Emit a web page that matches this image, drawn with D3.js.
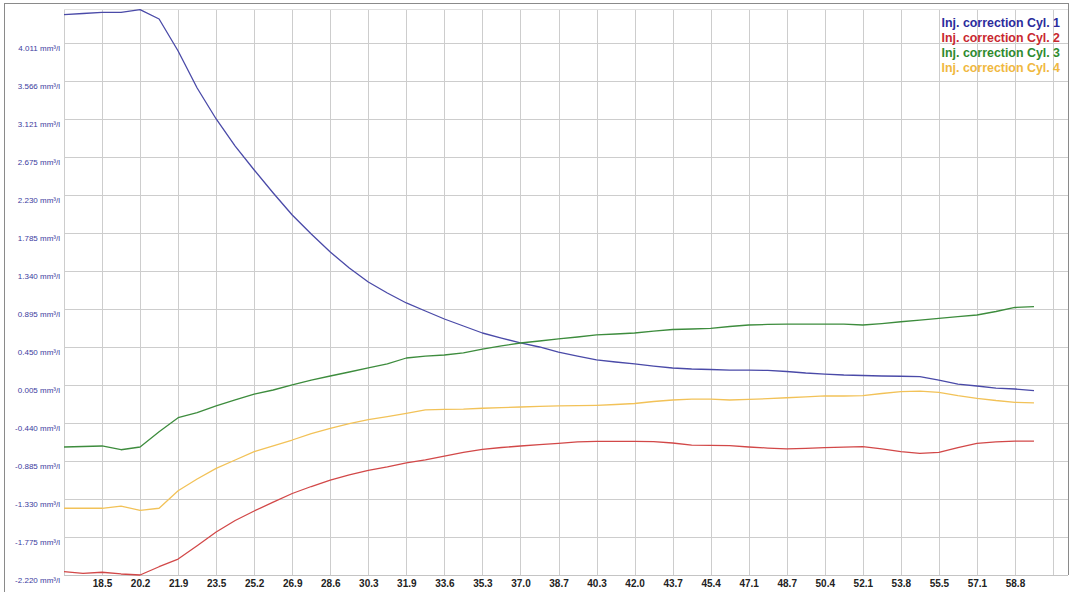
<!DOCTYPE html>
<html>
<head>
<meta charset="utf-8">
<script src="https://cdn.jsdelivr.net/npm/d3@7"></script>
<style>
  html, body { margin: 0; padding: 0; background: #ffffff; }
  svg { display: block; }
</style>
</head>
<body>
<svg id="chart" width="1074" height="592"></svg>
<script>
// ---- Data ----
const xTickLabels = ["18.5","20.2","21.9","23.5","25.2","26.9","28.6","30.3","31.9","33.6","35.3","37.0","38.7","40.3","42.0","43.7","45.4","47.1","48.7","50.4","52.1","53.8","55.5","57.1","58.8"];
const yTickValues = [4.011, 3.566, 3.121, 2.675, 2.230, 1.785, 1.340, 0.895, 0.450, 0.005, -0.440, -0.885, -1.330, -1.775, -2.220];
const yUnit = " mm³/l";

const cyl1 = [4.346,4.360,4.374,4.374,4.405,4.296,3.921,3.487,3.124,2.807,2.526,2.257,1.999,1.776,1.565,1.378,1.214,1.085,0.968,0.874,0.780,0.698,0.616,0.557,0.499,0.452,0.393,0.346,0.300,0.276,0.253,0.229,0.206,0.194,0.188,0.182,0.182,0.177,0.165,0.147,0.135,0.124,0.118,0.112,0.109,0.104,0.065,0.018,-0.005,-0.029,-0.040,-0.060];
const cyl2 = [-2.181,-2.200,-2.188,-2.208,-2.220,-2.123,-2.033,-1.877,-1.716,-1.581,-1.470,-1.365,-1.265,-1.183,-1.107,-1.048,-0.995,-0.954,-0.907,-0.872,-0.826,-0.784,-0.747,-0.726,-0.708,-0.691,-0.677,-0.661,-0.653,-0.653,-0.653,-0.656,-0.673,-0.697,-0.700,-0.705,-0.720,-0.732,-0.743,-0.735,-0.728,-0.722,-0.716,-0.743,-0.775,-0.794,-0.784,-0.726,-0.677,-0.661,-0.650,-0.650];
const cyl3 = [-0.720,-0.714,-0.708,-0.752,-0.720,-0.541,-0.377,-0.318,-0.239,-0.169,-0.099,-0.052,0.007,0.065,0.112,0.159,0.206,0.253,0.323,0.346,0.358,0.382,0.428,0.464,0.499,0.522,0.546,0.569,0.593,0.604,0.616,0.639,0.657,0.663,0.671,0.692,0.710,0.716,0.721,0.721,0.721,0.721,0.710,0.727,0.748,0.768,0.788,0.809,0.827,0.868,0.915,0.924];
const cyl4 = [-1.438,-1.438,-1.438,-1.412,-1.462,-1.438,-1.232,-1.095,-0.970,-0.872,-0.775,-0.708,-0.638,-0.562,-0.501,-0.445,-0.398,-0.363,-0.325,-0.286,-0.278,-0.275,-0.266,-0.259,-0.251,-0.245,-0.239,-0.236,-0.231,-0.222,-0.210,-0.187,-0.169,-0.158,-0.158,-0.169,-0.161,-0.154,-0.143,-0.132,-0.122,-0.122,-0.119,-0.093,-0.072,-0.064,-0.079,-0.117,-0.149,-0.175,-0.196,-0.204];

const seriesNames = ["Inj. correction Cyl. 1","Inj. correction Cyl. 2","Inj. correction Cyl. 3","Inj. correction Cyl. 4"];
const lineColors = ["#4a4aa8","#d24848","#3d8c3d","#f2c258"];
const legendColors = ["#2b2b9c","#c9282f","#2e8a2e","#f0b840"];

// ---- Layout ----
const svg = d3.select("#chart");
const plotLeft = 64, plotRight = 1068, plotTop = 9, plotBottom = 575;

const x = d3.scaleLinear().domain([0, 52]).range([64, 1053]);
const y = d3.scaleLinear().domain([-2.220, 4.011]).range([575, 43.3]);

// outer frame
const frame = svg.append("g").attr("shape-rendering", "crispEdges");
frame.append("line").attr("x1", 4.5).attr("x2", 4.5).attr("y1", 3).attr("y2", 592).attr("stroke", "#8a8a8a");
frame.append("line").attr("x1", 4).attr("x2", plotRight).attr("y1", 3.5).attr("y2", 3.5).attr("stroke", "#8a8a8a");
frame.append("line").attr("x1", plotRight + 0.5).attr("x2", plotRight + 0.5).attr("y1", 3).attr("y2", plotBottom).attr("stroke", "#8a8a8a");

// grid
const grid = svg.append("g").attr("shape-rendering", "crispEdges");
const vIdx = d3.range(0, 53, 2);
grid.selectAll("line.v").data(vIdx).join("line")
  .attr("class", "v")
  .attr("x1", d => Math.round(x(d)) + 0.5).attr("x2", d => Math.round(x(d)) + 0.5)
  .attr("y1", plotTop).attr("y2", plotBottom)
  .attr("stroke", "#cdcdcd");
grid.selectAll("line.h").data(yTickValues).join("line")
  .attr("class", "h")
  .attr("x1", plotLeft).attr("x2", plotRight)
  .attr("y1", d => Math.round(y(d)) + 0.5).attr("y2", d => Math.round(y(d)) + 0.5)
  .attr("stroke", "#cdcdcd");
grid.append("line").attr("x1", plotLeft).attr("x2", plotRight)
  .attr("y1", plotTop + 0.5).attr("y2", plotTop + 0.5).attr("stroke", "#e0e0e0");
grid.append("line").attr("x1", plotLeft).attr("x2", plotRight)
  .attr("y1", plotBottom + 0.5).attr("y2", plotBottom + 0.5).attr("stroke", "#c4c4c4");

// y labels
const yAxis = d3.axisLeft(y).tickValues(yTickValues).tickSize(0).tickPadding(0)
  .tickFormat(d => d.toFixed(3) + yUnit);
const yg = svg.append("g").attr("transform", "translate(60,0)").call(yAxis);
yg.select(".domain").remove();
yg.selectAll("text")
  .attr("dy", "7px")
  .attr("fill", "#3c3ca0")
  .style("font-family", "Arial, 'Liberation Sans', sans-serif")
  .style("font-size", "8px");

// x labels
const xTickIdx = xTickLabels.map((_, i) => 2 + 2 * i);
const xAxis = d3.axisBottom(x).tickValues(xTickIdx).tickSize(0).tickPadding(0)
  .tickFormat((d, i) => xTickLabels[i]);
const xg = svg.append("g").attr("transform", "translate(0,578)").call(xAxis);
xg.select(".domain").remove();
xg.selectAll("text")
  .attr("dy", "9px")
  .attr("y", 0)
  .attr("fill", "#222")
  .style("font-family", "Arial, 'Liberation Sans', sans-serif")
  .style("font-size", "10px")
  .style("font-weight", "bold");

// lines
const allSeries = [cyl1, cyl2, cyl3, cyl4];
const line = d3.line().x((d, i) => x(i)).y(d => y(d));
svg.append("g").selectAll("path").data(allSeries).join("path")
  .attr("d", d => line(d))
  .attr("fill", "none")
  .attr("stroke", (d, i) => lineColors[i])
  .attr("stroke-width", 1.3)
  .attr("stroke-linejoin", "round");

// legend
svg.append("g").selectAll("text").data(seriesNames).join("text")
  .attr("x", 1060)
  .attr("y", (d, i) => 27 + 15 * i)
  .attr("text-anchor", "end")
  .attr("fill", (d, i) => legendColors[i])
  .style("font-family", "Arial, 'Liberation Sans', sans-serif")
  .style("font-size", "12.4px")
  .style("font-weight", "bold")
  .text(d => d);
</script>
</body>
</html>
